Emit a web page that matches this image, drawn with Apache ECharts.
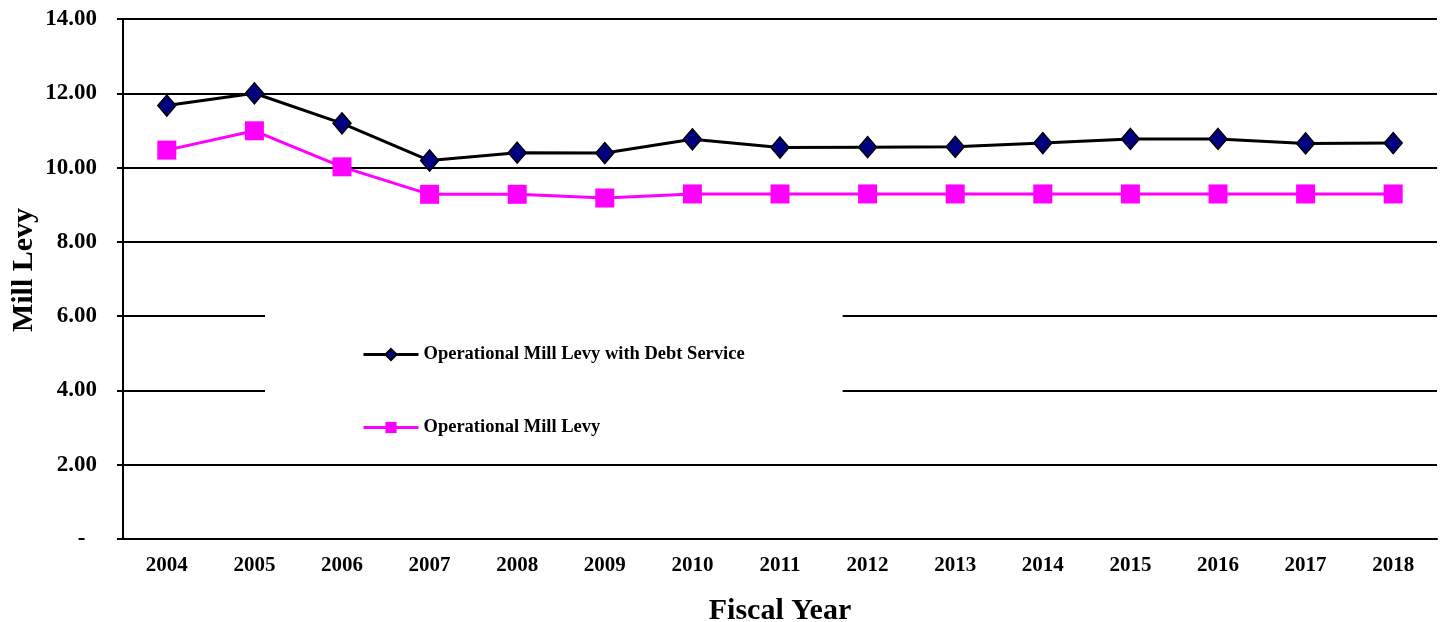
<!DOCTYPE html>
<html>
<head>
<meta charset="utf-8">
<title>Mill Levy by Fiscal Year</title>
<script src="https://cdn.jsdelivr.net/npm/echarts@6/dist/echarts.min.js"></script>
<style>
  html, body { margin: 0; padding: 0; background: #ffffff; }
  #chart { width: 1444px; height: 622px; }
</style>
</head>
<body>
<div id="chart"></div>
<script>
// Fiscal years on the category axis
const years = ['2004', '2005', '2006', '2007', '2008', '2009', '2010', '2011',
               '2012', '2013', '2014', '2015', '2016', '2017', '2018'];

// Mill levy including debt service
const levyWithDebt = [11.67, 12.00, 11.19, 10.19, 10.40, 10.39, 10.76, 10.54,
                      10.55, 10.56, 10.66, 10.77, 10.77, 10.65, 10.66];

// Operational mill levy only
const levyOperational = [10.47, 10.99, 10.02, 9.28, 9.28, 9.18, 9.29, 9.29,
                         9.29, 9.29, 9.29, 9.29, 9.29, 9.29, 9.29];

const seriesNames = ['Operational Mill Levy with Debt Service', 'Operational Mill Levy'];

const serif = '"Liberation Serif", "Times New Roman", Times, serif';

const chart = echarts.init(document.getElementById('chart'), null, { renderer: 'canvas' });

chart.setOption({
  animation: false,
  backgroundColor: '#ffffff',
  grid: { left: 123, right: 7, top: 19, bottom: 83, containLabel: false, outerBoundsMode: 'none' },
  legend: {
    orient: 'vertical',
    left: 265,
    top: 306,
    padding: [39, 98, 18, 97],
    backgroundColor: '#ffffff',
    itemWidth: 55,
    itemHeight: 14,
    itemGap: 54,
    data: seriesNames,
    lineStyle: { width: 3 },
    textStyle: {
      fontFamily: serif,
      fontWeight: 'bold',
      fontSize: 18.5,
      lineHeight: 18,
      color: '#000000'
    }
  },
  xAxis: {
    type: 'category',
    data: years,
    boundaryGap: true,
    name: 'Fiscal Year',
    nameLocation: 'middle',
    nameGap: 57,
    nameMoveOverlap: false,
    nameTextStyle: { fontFamily: serif, fontWeight: 'bold', fontSize: 30, color: '#000000' },
    axisLine: { show: true, lineStyle: { color: '#000000', width: 2 } },
    axisTick: { show: false },
    axisLabel: { fontFamily: serif, fontWeight: 'bold', fontSize: 21, color: '#000000', margin: 16 },
    splitLine: { show: false }
  },
  yAxis: {
    type: 'value',
    min: 0,
    max: 14,
    interval: 2,
    name: 'Mill Levy',
    nameLocation: 'middle',
    nameGap: 84,
    nameRotate: 90,
    nameMoveOverlap: false,
    nameTextStyle: {
      fontFamily: serif, fontWeight: 'bold', fontSize: 30, color: '#000000',
      padding: [0, 0, 0, 18]
    },
    axisLine: { show: true, lineStyle: { color: '#000000', width: 2 } },
    axisTick: { show: true, inside: false, length: 6, lineStyle: { color: '#000000', width: 2 } },
    axisLabel: {
      fontFamily: serif, fontWeight: 'bold', fontSize: 23, color: '#000000', margin: 26,
      // zero is shown as a dash, padded like an accounting format
      formatter: v => (v === 0 ? '-  ' : v.toFixed(2))
    },
    splitLine: { show: true, lineStyle: { color: '#000000', width: 2 } }
  },
  series: [
    {
      name: seriesNames[0],
      type: 'line',
      data: levyWithDebt,
      symbol: 'diamond',
      symbolSize: [18, 21],
      z: 3,
      lineStyle: { color: '#000000', width: 3 },
      itemStyle: { color: '#000080', borderColor: '#000000', borderWidth: 1.5 }
    },
    {
      name: seriesNames[1],
      type: 'line',
      data: levyOperational,
      symbol: 'rect',
      symbolSize: 19,
      z: 2,
      lineStyle: { color: '#ff00ff', width: 3 },
      itemStyle: { color: '#ff00ff', borderColor: '#ff00ff', borderWidth: 0 }
    }
  ]
});
</script>
</body>
</html>
